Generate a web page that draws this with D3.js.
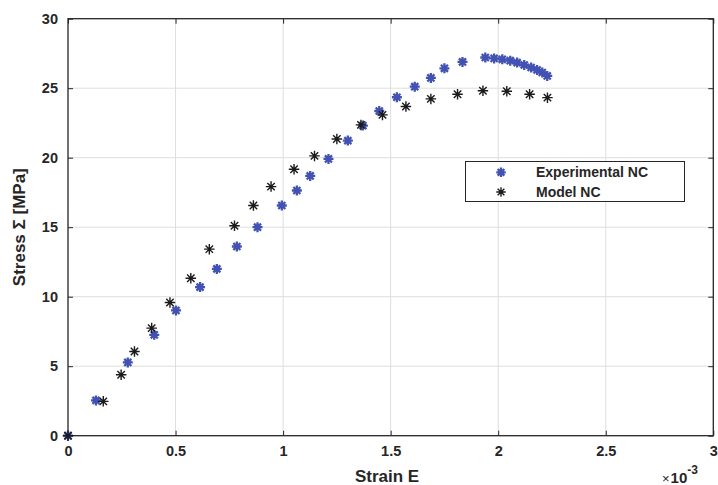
<!DOCTYPE html>
<html>
<head>
<meta charset="utf-8">
<script src="https://cdn.jsdelivr.net/npm/d3@7/dist/d3.min.js"></script>
<style>
  html, body { margin: 0; padding: 0; background: #fff; }
  svg { display: block; }
  text { font-family: "Liberation Sans", Arial, Helvetica, sans-serif; font-weight: bold; fill: #262626; }
</style>
</head>
<body>
<svg id="chart" width="718" height="485"></svg>
<script>
// Strain in units of 1e-3, stress in MPa
const expStrain = [0, 0.130, 0.278, 0.401, 0.502, 0.614, 0.692, 0.785, 0.881, 0.994, 1.064, 1.126, 1.211, 1.301, 1.371, 1.447, 1.529, 1.612, 1.687, 1.750, 1.834, 1.940, 1.981, 2.019, 2.056, 2.088, 2.121, 2.153, 2.181, 2.205, 2.228];
const expStress = [0, 2.54, 5.27, 7.26, 9.01, 10.69, 12.0, 13.61, 15.0, 16.56, 17.64, 18.69, 19.91, 21.23, 22.31, 23.36, 24.35, 25.11, 25.74, 26.43, 26.89, 27.21, 27.14, 27.08, 26.98, 26.84, 26.67, 26.49, 26.31, 26.13, 25.88];

const modelStrain = [0, 0.164, 0.247, 0.309, 0.389, 0.474, 0.571, 0.657, 0.774, 0.862, 0.944, 1.051, 1.146, 1.250, 1.362, 1.462, 1.571, 1.687, 1.811, 1.929, 2.040, 2.146, 2.229];
const modelStress = [0, 2.47, 4.39, 6.06, 7.74, 9.58, 11.33, 13.42, 15.10, 16.56, 17.92, 19.17, 20.13, 21.35, 22.36, 23.08, 23.68, 24.23, 24.56, 24.82, 24.78, 24.56, 24.32];

const xTicks = [0, 0.5, 1, 1.5, 2, 2.5, 3];
const yTicks = [0, 5, 10, 15, 20, 25, 30];
const seriesNames = ["Experimental NC", "Model NC"];
const seriesColors = ["#4152b3", "#1a1a1a"];

const W = 718, H = 485;
const margin = { left: 68, top: 18.7, right: 4.7, bottom: 49.3 };
const svg = d3.select("#chart");

const x = d3.scaleLinear().domain([0, 3]).range([margin.left, W - margin.right]);
const y = d3.scaleLinear().domain([0, 30]).range([H - margin.bottom, margin.top]);

// Eight-armed asterisk marker (plus overlaid with a cross)
const asterisk = {
  draw(ctx, size) {
    const r = Math.sqrt(size) / 2;
    const d = r * Math.SQRT1_2;
    ctx.moveTo(-r, 0); ctx.lineTo(r, 0);
    ctx.moveTo(0, -r); ctx.lineTo(0, r);
    ctx.moveTo(-d, -d); ctx.lineTo(d, d);
    ctx.moveTo(-d, d); ctx.lineTo(d, -d);
  }
};

// Grid
const grid = svg.append("g").attr("stroke", "#dedede").attr("stroke-width", 1);
grid.selectAll(".gx").data(xTicks.slice(1, -1)).join("line")
  .attr("x1", d => x(d)).attr("x2", d => x(d))
  .attr("y1", y(0)).attr("y2", y(30));
grid.selectAll(".gy").data(yTicks.slice(1, -1)).join("line")
  .attr("y1", d => y(d)).attr("y2", d => y(d))
  .attr("x1", x(0)).attr("x2", x(3));

// Axes (ticks inward, mirrored on top/right)
const tickLen = 5;
const bottomAxis = d3.axisBottom(x).tickValues(xTicks).tickSizeInner(-tickLen).tickSizeOuter(0).tickPadding(10).tickFormat(d3.format("~g"));
const leftAxis = d3.axisLeft(y).tickValues(yTicks).tickSizeInner(-tickLen).tickSizeOuter(0).tickPadding(10).tickFormat(d3.format("~g"));
const topAxis = d3.axisTop(x).tickValues(xTicks).tickSizeInner(-tickLen).tickSizeOuter(0).tickFormat("");
const rightAxis = d3.axisRight(y).tickValues(yTicks).tickSizeInner(-tickLen).tickSizeOuter(0).tickFormat("");

function styleAxis(g) {
  g.select(".domain").remove();
  g.selectAll("line").attr("stroke", "#262626").attr("stroke-width", 1);
  g.selectAll("text").attr("font-size", 14.5).attr("fill", "#262626")
    .style("font-family", '"Liberation Sans", Arial, sans-serif').style("font-weight", "bold");
}
svg.append("g").attr("transform", `translate(0,${y(0)})`).call(bottomAxis).call(styleAxis);
svg.append("g").attr("transform", `translate(${x(0)},0)`).call(leftAxis).call(styleAxis);
svg.append("g").attr("transform", `translate(0,${y(30)})`).call(topAxis).call(styleAxis);
svg.append("g").attr("transform", `translate(${x(3)},0)`).call(rightAxis).call(styleAxis);

// Box
svg.append("rect")
  .attr("x", x(0)).attr("y", y(30))
  .attr("width", x(3) - x(0)).attr("height", y(0) - y(30))
  .attr("fill", "none").attr("stroke", "#262626").attr("stroke-width", 1.3);

// Exponent label
const expo = svg.append("text").attr("x", 662).attr("y", 483).attr("font-size", 15);
expo.append("tspan").text("×").style("font-weight", "normal").attr("font-size", 13);
expo.append("tspan").attr("dx", 1).text("10");
expo.append("tspan").attr("dy", -9).attr("font-size", 12).text("-3");

// Axis labels
svg.append("text").attr("x", 387).attr("y", 482).attr("text-anchor", "middle")
  .attr("font-size", 17).text("Strain E");
svg.append("text")
  .attr("transform", `translate(25,${(y(0) + y(30)) / 2}) rotate(-90)`)
  .attr("text-anchor", "middle").attr("font-size", 17)
  .text("Stress Σ [MPa]");

// Data markers
const sym = d3.symbol().type(asterisk);
const expData = expStrain.map((s, i) => [s, expStress[i]]);
const modelData = modelStrain.map((s, i) => [s, modelStress[i]]);

svg.append("g").selectAll("path").data(expData).join("path")
  .attr("transform", d => `translate(${x(d[0])},${y(d[1])})`)
  .attr("d", sym.size(100))
  .attr("fill", "none").attr("stroke", seriesColors[0]).attr("stroke-width", 2.3);

svg.append("g").selectAll("path").data(modelData).join("path")
  .attr("transform", d => `translate(${x(d[0])},${y(d[1])})`)
  .attr("d", sym.size(110))
  .attr("fill", "none").attr("stroke", seriesColors[1]).attr("stroke-width", 1.4);

// Legend
const lg = svg.append("g");
lg.append("rect").attr("x", 465.5).attr("y", 161.5).attr("width", 219).attr("height", 40)
  .attr("fill", "#fff").attr("stroke", "#262626").attr("stroke-width", 1);
const rows = [{ name: seriesNames[0], color: seriesColors[0], sw: 2.3, cy: 172.3 },
              { name: seriesNames[1], color: seriesColors[1], sw: 1.4, cy: 192 }];
rows.forEach(r => {
  lg.append("path").attr("transform", `translate(501,${r.cy})`)
    .attr("d", d3.symbol().type(asterisk).size(90)())
    .attr("fill", "none").attr("stroke", r.color).attr("stroke-width", r.sw);
  lg.append("text").attr("x", 536).attr("y", r.cy + 5).attr("font-size", 14).text(r.name);
});
</script>
</body>
</html>
